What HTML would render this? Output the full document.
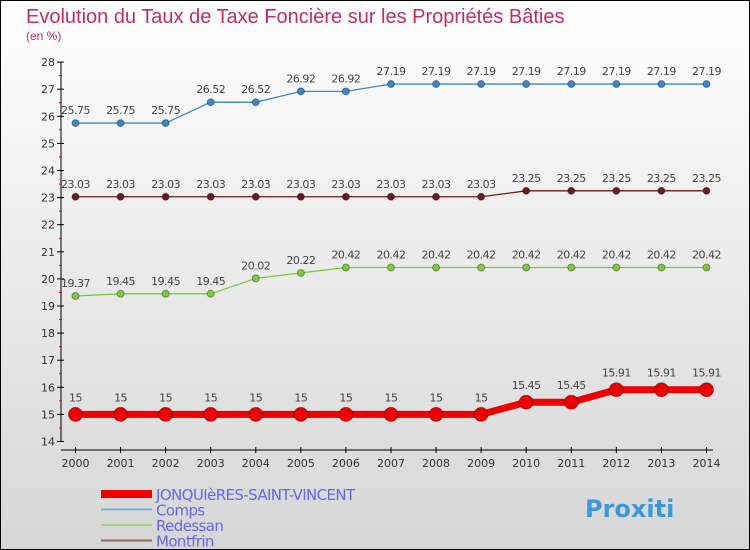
<!DOCTYPE html>
<html><head><meta charset="utf-8"><style>
body{margin:0}
#c{width:750px;height:550px;position:relative;box-sizing:border-box;border:1px solid #000;background:linear-gradient(#ffffff,#d6d6d6);font-family:"DejaVu Sans","Liberation Sans",sans-serif;overflow:hidden}
</style></head><body>
<div id="c">
<svg id="s" width="748" height="548" style="position:absolute;left:0;top:0">
<text x="25" y="22" font-size="20" font-family="Liberation Sans, sans-serif" fill="#c0305f">Evolution du Taux de Taxe Foncière sur les Propriétés Bâties</text>
<text x="25" y="39" font-size="12" font-family="Liberation Sans, sans-serif" fill="#c0305f">(en %)</text>
</svg>
</div>
<script>
const years=[2000,2001,2002,2003,2004,2005,2006,2007,2008,2009,2010,2011,2012,2013,2014];
const yTicks=[14,15,16,17,18,19,20,21,22,23,24,25,26,27,28];
const jonq=[15,15,15,15,15,15,15,15,15,15,15.45,15.45,15.91,15.91,15.91];
const comps=[25.75,25.75,25.75,26.52,26.52,26.92,26.92,27.19,27.19,27.19,27.19,27.19,27.19,27.19,27.19];
const redessan=[19.37,19.45,19.45,19.45,20.02,20.22,20.42,20.42,20.42,20.42,20.42,20.42,20.42,20.42,20.42];
const montfrin=[23.03,23.03,23.03,23.03,23.03,23.03,23.03,23.03,23.03,23.03,23.25,23.25,23.25,23.25,23.25];
const s=document.getElementById('s');const NS='http://www.w3.org/2000/svg';
function X(i){return 74.5+i*45.07;}
function Y(v){return 440.5-(v-14)*27.1;}
function el(t,a,p){const e=document.createElementNS(NS,t);for(const k in a)e.setAttribute(k,a[k]);(p||s).appendChild(e);return e;}
const ax=el('g',{});


el('line',{x1:60,y1:Y(28),x2:60,y2:Y(14),stroke:'#000','stroke-width':1},ax);
el('line',{x1:60,y1:449,x2:712,y2:449,stroke:'#000','stroke-width':1},ax);
yTicks.forEach(v=>{
 el('line',{x1:56,y1:Y(v),x2:63,y2:Y(v),stroke:'#000'},ax);
 if(v<28)el('line',{x1:58,y1:Y(v+0.5),x2:61,y2:Y(v+0.5),stroke:'#e00'},ax);
 const t=el('text',{x:54,y:Y(v)+4,'font-size':11,'text-anchor':'end',fill:'#333'},ax);t.textContent=v;
 
 
});
years.forEach((yr,i)=>{
 el('line',{x1:X(i),y1:446,x2:X(i),y2:452,stroke:'#000'},ax);
 const t=el('text',{x:X(i),y:466,'font-size':11,'text-anchor':'middle',fill:'#333'},ax);t.textContent=yr;
 
 
});
function series(data,color,w,r,name,lblOff){
 const g=el('g',{});
 
 
 el('polyline',{points:data.map((v,i)=>X(i)+','+Y(v)).join(' '),fill:'none',stroke:color,'stroke-width':w,'stroke-linejoin':'round'},g);
 data.forEach((v,i)=>{
  const c=el('circle',{cx:X(i),cy:Y(v),r:r,fill:color,stroke:'rgba(0,0,0,0.35)','stroke-width':1},g);
  
  
  const t=el('text',{x:X(i),y:Y(v)-lblOff,'font-size':11,'text-anchor':'middle',fill:'#444','letter-spacing':'-0.5'},g);t.textContent=v;
  
  
 });
}
series(comps,'#3b86c6',1.3,3.5,'comps-series',9);
series(montfrin,'#6b1a20',1.3,3.5,'montfrin-series',9);
series(redessan,'#7acc3a',1.3,3.5,'redessan-series',9);
series(jonq,'#ee0000',7,7,'jonquieres-series',13);
const lg=el('g',{});


const items=[['JONQUIèRES-SAINT-VINCENT','#ee0000',8],['Comps','#7aaed0',2],['Redessan','#99dd77',2],['Montfrin','#996666',2]];
items.forEach((it,i)=>{
 const y=493+i*15.5;
 el('line',{x1:100,y1:y,x2:151,y2:y,stroke:it[1],'stroke-width':it[2]},lg);
 const t=el('text',{x:155,y:y+6,'font-size':15,fill:'#6666ee','letter-spacing':'-0.6'},lg);t.textContent=it[0];
 
 
});
const p=el('text',{x:584,y:516,'font-size':24,'font-weight':'bold',fill:'#3a9ad9'});p.textContent='Proxiti';


</script>
</body></html>
